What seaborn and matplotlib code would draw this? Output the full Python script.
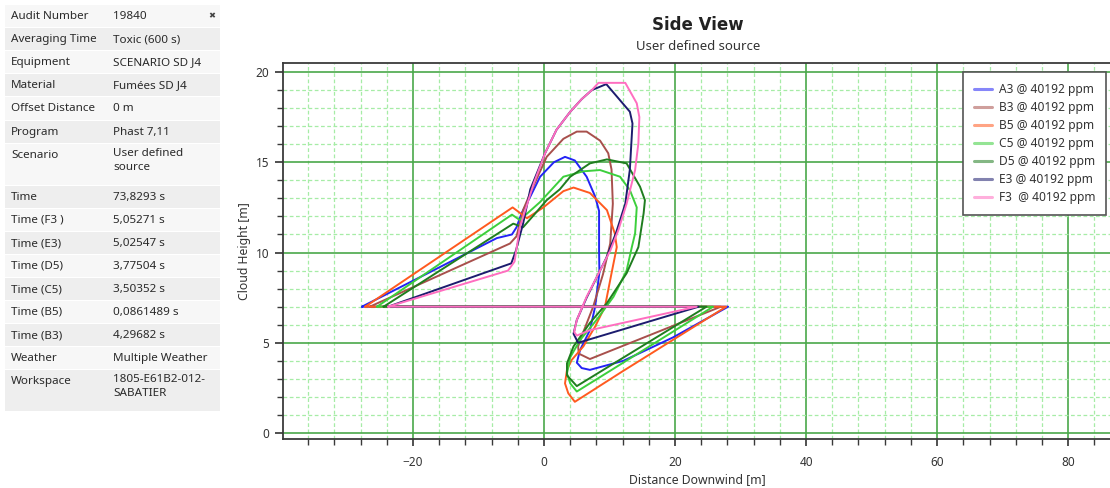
import matplotlib
matplotlib.use("Agg")
import matplotlib.pyplot as plt
from matplotlib.lines import Line2D
from matplotlib.patches import Rectangle
from matplotlib.ticker import MultipleLocator
import numpy as np
import pandas as pd
import seaborn as sns

# ---------------------------------------------------------------- data
scenarios = ["A3", "B3", "B5", "C5", "D5", "E3", "F3"]
concentration_ppm = 40192

a3_x = [-27.8, -7.2, -4.9, -4.2, -3.4, -2.1, -0.6, 1.5, 3.2, 4.7, 6.5, 7.8, 8.4, 8.4, 8.45,
        7.8, 7.0, 5.5, 5.0, 5.75, 7.0, 12.1, 19.7, 28.1, -27.8]
a3_y = [7.0, 10.8, 11.0, 11.4, 12.2, 13.1, 14.2, 15.0, 15.3, 15.1, 14.2, 13.1, 12.3, 10.1, 8.9,
        7.0, 5.7, 4.6, 3.9, 3.6, 3.5, 4.0, 5.3, 7.0, 7.0]

b3_x = [-26.6, -5.2, -4.2, -3.2, -2.1, 0.4, 2.95, 5.0, 6.5, 8.55, 9.8, 10.3, 10.5, 10.1, 9.0,
        7.5, 6.0, 5.2, 5.3, 7.0, 27.0, -26.6]
b3_y = [7.0, 10.5, 10.9, 12.35, 13.3, 15.3, 16.3, 16.7, 16.7, 16.2, 15.5, 14.6, 12.7, 10.5, 8.8,
        7.0, 5.6, 4.8, 4.4, 4.1, 7.0, 7.0]

b5_x = [-27.3, -4.8, -2.6, -0.1, 2.95, 4.5, 7.0, 9.6, 10.8, 11.1, 10.3, 9.3, 7.8, 6.0, 4.2,
        3.5, 3.2, 3.7, 4.7, 11.9, 27.8, -27.3]
b5_y = [7.0, 12.5, 11.9, 12.5, 13.4, 13.6, 13.3, 12.35, 11.06, 10.3, 8.85, 7.0, 5.9, 4.8, 4.04,
        3.5, 2.75, 2.2, 1.73, 3.4, 7.0, 7.0]

c5_x = [-25.5, -4.9, -3.7, -0.6, 2.95, 6.0, 8.55, 11.6, 13.1, 14.15, 13.9, 13.4, 12.6, 10.6,
        8.0, 5.5, 4.0, 3.5, 4.0, 5.0, 10.1, 25.8, -25.5]
c5_y = [7.0, 12.1, 11.8, 12.8, 14.2, 14.5, 14.57, 14.2, 13.46, 12.5, 11.06, 10.3, 9.0, 7.55,
        6.26, 5.15, 4.2, 3.3, 2.75, 2.3, 3.45, 7.0, 7.0]

d5_x = [-24.5, -4.7, -3.2, -1.5, 0.4, 2.4, 4.0, 7.0, 9.6, 12.6, 14.65, 15.4, 15.2, 14.4, 12.6,
        9.6, 7.0, 4.5, 3.5, 3.5, 5.0, 24.8, -24.5]
d5_y = [7.0, 11.6, 11.4, 12.1, 12.9, 13.5, 14.2, 14.94, 15.16, 14.94, 13.65, 12.9, 12.17, 10.3,
        8.85, 7.2, 6.1, 4.8, 3.86, 3.2, 2.6, 7.0, 7.0]

e3_x = [-23.8, -5.0, -4.3, -3.2, -2.1, 0.15, 1.9, 4.0, 5.75, 7.3, 9.5, 13.1, 13.5, 13.1, 12.4,
        11.0, 9.5, 8.0, 6.5, 5.0, 4.5, 5.2, 23.6, -23.8]
e3_y = [7.0, 9.4, 10.1, 11.6, 13.5, 15.5, 16.8, 17.8, 18.5, 19.0, 19.33, 17.8, 17.15, 14.6, 12.7,
        11.1, 9.7, 8.6, 7.5, 6.26, 5.5, 5.0, 7.0, 7.0]

f3_x = [-23.8, -5.5, -4.5, -3.7, -1.6, 0.15, 1.9, 4.0, 5.75, 7.3, 8.3, 12.4, 14.15, 14.55, 14.4,
        13.9, 12.6, 11.35, 10.1, 8.55, 6.5, 5.0, 4.6, 5.0, 7.0, 23.3, -23.8]
f3_y = [7.0, 9.0, 9.5, 11.4, 13.8, 15.5, 16.8, 17.8, 18.5, 19.0, 19.4, 19.4, 18.27, 17.5, 16.05,
        14.57, 12.7, 11.25, 10.1, 9.0, 7.55, 6.26, 5.6, 5.4, 5.7, 7.0, 7.0]

series_x = [a3_x, b3_x, b5_x, c5_x, d5_x, e3_x, f3_x]
series_y = [a3_y, b3_y, b5_y, c5_y, d5_y, e3_y, f3_y]
legend_labels = ["A3 @ 40192 ppm", "B3 @ 40192 ppm", "B5 @ 40192 ppm", "C5 @ 40192 ppm",
                 "D5 @ 40192 ppm", "E3 @ 40192 ppm", "F3  @ 40192 ppm"]

info_keys = ["Audit Number", "Averaging Time", "Equipment", "Material", "Offset Distance",
             "Program", "Scenario", "Time", "Time (F3 )", "Time (E3)", "Time (D5)",
             "Time (C5)", "Time (B5)", "Time (B3)", "Weather", "Workspace"]
info_values = ["19840", "Toxic (600 s)", "SCENARIO SD J4", "Fumées SD J4", "0 m", "Phast 7,11",
               "User defined\nsource", "73,8293 s", "5,05271 s", "5,02547 s", "3,77504 s",
               "3,50352 s", "0,0861489 s", "4,29682 s", "Multiple Weather",
               "1805-E61B2-012-\nSABATIER"]

palette = {"A3": "#2323f5", "B3": "#a8504c", "B5": "#ff5a1f", "C5": "#3ccf3c",
           "D5": "#1f7d1f", "E3": "#1c1c6e", "F3": "#ff6ec0"}

# ---------------------------------------------------------------- frame
frames = []
for name, xs, ys in zip(scenarios, series_x, series_y):
    frames.append(pd.DataFrame({"scenario": name, "order": np.arange(len(xs)),
                                "distance": xs, "height": ys}))
df = pd.concat(frames, ignore_index=True)

# ---------------------------------------------------------------- style
sns.set_theme(style="white")
plt.rcParams["font.family"] = ["Noto Sans", "DejaVu Sans"]
TXT = "#333333"

W, H = 1110, 488
fig = plt.figure(figsize=(W / 100, H / 100), dpi=100)
fig.patch.set_facecolor("white")

left_px, right_px, top_px, bottom_px = 283, 1112, 63, 439
ax = fig.add_axes([left_px / W, 1 - bottom_px / H,
                   (right_px - left_px) / W, (bottom_px - top_px) / H])

sns.lineplot(data=df, x="distance", y="height", hue="scenario", units="scenario",
             estimator=None, sort=False, palette=palette, hue_order=scenarios,
             linewidth=1.4, legend=False, ax=ax)

ax.set_xlim(-39.85, 86.7)
ax.set_ylim(-0.33, 20.5)
ax.xaxis.set_major_locator(MultipleLocator(20))
ax.xaxis.set_minor_locator(MultipleLocator(4))
ax.yaxis.set_major_locator(MultipleLocator(5))
ax.yaxis.set_minor_locator(MultipleLocator(1))

ax.grid(which="major", color="#4aa84a", linewidth=1.2, linestyle="-")
ax.grid(which="minor", color="#a6eca6", linewidth=0.9, linestyle=(0, (3, 2)))
ax.set_axisbelow(True)

for side in ("left", "bottom", "top"):
    ax.spines[side].set_color("#3a3a3a")
    ax.spines[side].set_linewidth(1.3)
ax.spines["right"].set_visible(False)

ax.tick_params(which="both", direction="out", color="#3a3a3a", labelcolor=TXT,
               labelsize=8.5, bottom=True, left=True)
ax.tick_params(axis="x", which="major", length=5, pad=7)
ax.tick_params(axis="x", which="minor", length=4)
ax.tick_params(axis="y", which="major", length=6, pad=4)
ax.tick_params(axis="y", which="minor", length=4)

ax.set_xlabel("Distance Downwind [m]", fontsize=8.8, color=TXT, labelpad=3)
ax.set_ylabel("Cloud Height [m]", fontsize=8.8, color=TXT, labelpad=3)

fig.text(698 / W, 1 - 25 / H, "Side View", ha="center", va="center",
         fontsize=12, fontweight="bold", color="#222222", family=["DejaVu Sans"])
fig.text(698 / W, 1 - 47 / H, "User defined source", ha="center", va="center",
         fontsize=9.5, color=TXT)

handles = [Line2D([], [], color=palette[s], lw=2.2, alpha=0.55) for s in scenarios]
leg = ax.legend(handles, legend_labels, loc="upper right",
                bbox_to_anchor=(1106 / W, 1 - 72 / H), bbox_transform=fig.transFigure,
                fontsize=8.6, frameon=True, fancybox=False, framealpha=1,
                edgecolor="#555555", handlelength=1.5, handletextpad=0.6,
                labelspacing=0.42, borderpad=0.9, borderaxespad=0)
leg.get_frame().set_linewidth(1.2)
for t in leg.get_texts():
    t.set_color(TXT)

# ---------------------------------------------------------------- property panel
pan = fig.add_axes([0, 0, 230 / W, 1])
pan.set_xlim(0, 230)
pan.set_ylim(H, 0)
pan.axis("off")

row_tops = [5, 28, 51, 74, 97, 121, 144, 186, 209, 232, 255, 278, 301, 324, 347, 370]
row_heights = [23, 23, 23, 23, 24, 23, 42, 23, 23, 23, 23, 23, 23, 23, 23, 42]
for i, (key, val) in enumerate(zip(info_keys, info_values)):
    top, h = row_tops[i], row_heights[i]
    shade = "#eeeeee" if i % 2 == 1 else "#f7f7f7"
    pan.add_patch(Rectangle((5, top), 215, h - 1, facecolor=shade, edgecolor="none"))
    ty = top + 11.5
    pan.text(11, ty, key, ha="left", va="center", fontsize=8.4, color="#2a2a2a")
    if "\n" in val:
        pan.text(113, ty - 7, val, ha="left", va="top", fontsize=8.4,
                 color="#2a2a2a", linespacing=1.35)
    else:
        pan.text(113, ty, val, ha="left", va="center", fontsize=8.4, color="#2a2a2a")
pan.text(212, 16, "\u2716", ha="center", va="center", fontsize=6, color="#444444",
         family=["DejaVu Sans"])

fig.savefig("out.png", dpi=100, facecolor="white")
